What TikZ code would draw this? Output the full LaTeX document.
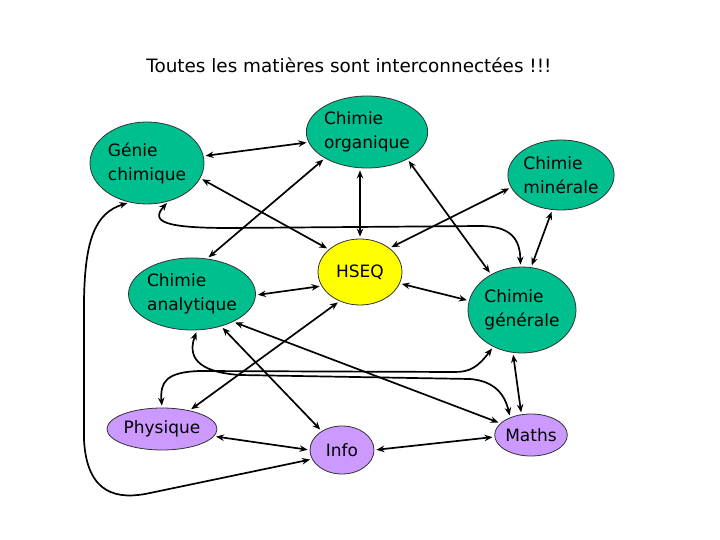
\documentclass[tikz,border=0pt]{standalone}
\usepackage{fontspec}
\setmainfont{DejaVu Sans}
\usepackage{xcolor}
\usetikzlibrary{shapes.geometric, positioning, arrows.meta}
\definecolor{vert}{RGB}{0,191,143}
\definecolor{mauve}{RGB}{204,153,255}
\definecolor{jaune}{RGB}{255,255,0}

\begin{document}
\begin{tikzpicture}[x=1pt, y=-1pt, >={Stealth[length=8pt, width=6.5pt]}]
        \tikzset{matiere/.style={ellipse, draw=black!80, line width=0.8pt, fill=vert, inner sep=0pt,
                align=left, font=\fontsize{17}{24}\selectfont}}
        \tikzset{lien/.style={<->, line width=1.7pt, shorten >=2pt, shorten <=2pt}}
        \useasboundingbox (0,0) rectangle (720,540);

        \node[font=\fontsize{18.4}{22}\selectfont] (titre) at (349,65) {Toutes les matières sont interconnectées !!!};

        \node[matiere, minimum width=114pt, minimum height=82pt] (genie) at (147,163) {Génie\\chimique};
        \node[matiere, minimum width=120pt, minimum height=72pt] (organique) at (367,132) {Chimie\\organique};
        \node[matiere, minimum width=102pt, minimum height=70pt] (minerale) at (561,175) {Chimie\\minérale};
        \node[matiere, minimum width=120pt, minimum height=72pt] (analytique) at (192,294) {Chimie\\analytique};
        \node[matiere, fill=jaune, minimum width=84pt, minimum height=66pt] (hseq) at (360,272) {HSEQ};
        \node[matiere, minimum width=108pt, minimum height=86pt] (generale) at (522,310) {Chimie\\générale};
        \node[matiere, fill=mauve, minimum width=110pt, minimum height=42pt] (physique) at (162,429) {Physique};
        \node[matiere, fill=mauve, minimum width=64pt, minimum height=48pt] (info) at (342,450) {Info};
        \node[matiere, fill=mauve, minimum width=70pt, minimum height=42pt] (maths) at (531,435) {Maths};

        \draw[lien] (genie.7) -- (organique.190);
        \draw[lien] (genie.-16) -- (hseq.144);
        \draw[lien] (organique.-148) -- (analytique.67);
        \draw[lien] (hseq.north) -- (hseq.north |- organique.south);
        \draw[lien] (organique.-34) -- (generale.131);

        \draw[lien] (minerale.-166) -- (hseq.39);
        \draw[lien] (minerale.-104) -- (generale.78);

        \draw[lien] (genie.-61) .. controls (150,222) and (165,228) .. (230,228)
                -- (480,226) .. controls (512,226) and (520,240) .. (generale.92);

        \draw[lien] (analytique.-1) -- (hseq.-160);
        \draw[lien] (hseq.-16) -- (generale.170);
        \draw[lien] (hseq.-125) -- (physique.34);

        \draw[lien] (analytique.-48) -- (info.137);
        \draw[lien] (analytique.-34) -- (maths.159);
        \draw[lien] (analytique.-82) .. controls (188,355) and (195,372) .. (240,375)
                -- (470,379) .. controls (495,381) and (505,395) .. (maths.140);
        \draw[lien] (physique.90) .. controls (160,382) and (166,372) .. (200,371)
                -- (455,372) .. controls (470,372) and (478,367) .. (generale.-128);
        \draw[lien] (generale.-102) -- (maths.115);

        \draw[lien] (physique.-8) -- (info.180);
        \draw[lien] (info.0) -- (maths.-177);

        \draw[lien] (genie.-114) .. controls (95,213) and (85,240) .. (84,300)
                -- (84,440) .. controls (87,495) and (118,500) .. (150,493) -- (info.-163);
\end{tikzpicture}
\end{document}
